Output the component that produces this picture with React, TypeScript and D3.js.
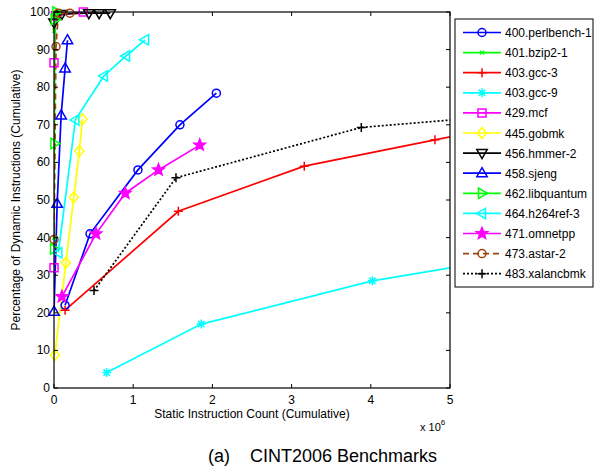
import React from "react";
import * as d3 from "d3";

const W = 596;
const H = 468;

// Axis ticks
const X_TICKS = [0, 1, 2, 3, 4, 5];
const Y_TICKS = [0, 10, 20, 30, 40, 50, 60, 70, 80, 90, 100];

// Benchmark names (legend order)
const NAMES = [
  "400.perlbench-1",
  "401.bzip2-1",
  "403.gcc-3",
  "403.gcc-9",
  "429.mcf",
  "445.gobmk",
  "456.hmmer-2",
  "458.sjeng",
  "462.libquantum",
  "464.h264ref-3",
  "471.omnetpp",
  "473.astar-2",
  "483.xalancbmk",
];

// [static instruction count (x 1e6), % dynamic instructions]
const perlbench: [number, number][] = [[0.14, 22], [0.455, 41], [1.06, 58], [1.59, 70], [2.05, 78.4]];
const bzip2: [number, number][] = [[0, 40], [0.005, 95], [0.015, 99], [0.03, 100]];
const gcc3: [number, number][] = [[0.14, 20.7], [1.57, 47], [3.16, 59], [4.81, 66], [6.0, 71]];
const gcc9: [number, number][] = [[0.665, 4.1], [1.86, 17], [4.02, 28.5], [6.0, 35.5]];
const mcf: [number, number][] = [[0, 32], [0, 86.5], [0.02, 99], [0.37, 100]];
const gobmk: [number, number][] = [[0.01, 8.8], [0.15, 33.3], [0.25, 50.7], [0.32, 63], [0.36, 71.5]];
const hmmer: [number, number][] = [[0, 97.2], [0.1, 99.5], [0.44, 99.7], [0.57, 99.7], [0.71, 99.7]];
const sjeng: [number, number][] = [[0, 20.3], [0.04, 49], [0.09, 72.5], [0.14, 85], [0.17, 92.5]];
const libquantum: [number, number][] = [[0, 37], [0.005, 65], [0.01, 98], [0.03, 100]];
const h264ref: [number, number][] = [[0.055, 36], [0.27, 71.3], [0.63, 83], [0.91, 88.3], [1.15, 92.6]];
const omnetpp: [number, number][] = [[0.1, 24.3], [0.53, 41], [0.9, 51.8], [1.32, 58], [1.84, 64.6]];
const astar: [number, number][] = [[0, 39.5], [0.025, 90.8], [0.055, 99.7], [0.2, 99.7]];
const xalancbmk: [number, number][] = [[0.505, 25.9], [1.54, 55.9], [3.88, 69.3], [6.0, 73]];

const SERIES_DATA = [perlbench, bzip2, gcc3, gcc9, mcf, gobmk, hmmer, sjeng, libquantum, h264ref, omnetpp, astar, xalancbmk];

type Marker = "circle" | "x" | "plus" | "asterisk" | "square" | "diamond" | "tdown" | "tup" | "tright" | "tleft" | "star";

const STYLES: { color: string; dash?: string; marker: Marker }[] = [
  { color: "#0000ff", marker: "circle" },
  { color: "#00ff00", marker: "x" },
  { color: "#ff0000", marker: "plus" },
  { color: "#00ffff", marker: "asterisk" },
  { color: "#ff00ff", marker: "square" },
  { color: "#ffff00", marker: "diamond" },
  { color: "#000000", marker: "tdown" },
  { color: "#0000ff", marker: "tup" },
  { color: "#00ff00", marker: "tright" },
  { color: "#00ffff", marker: "tleft" },
  { color: "#ff00ff", marker: "star" },
  { color: "#a0420c", dash: "6,4", marker: "circle" },
  { color: "#000000", dash: "2,2", marker: "plus" },
];

const FONT = "'Liberation Sans', Arial, Helvetica, sans-serif";

function markerPath(m: Marker, cx: number, cy: number): string {
  const r = 4.5;
  switch (m) {
    case "circle":
      return `M${cx + 4},${cy} A4,4 0 1,1 ${cx - 4},${cy} A4,4 0 1,1 ${cx + 4},${cy} Z`;
    case "x":
      return `M${cx - 2},${cy - 2}L${cx + 2},${cy + 2}M${cx - 2},${cy + 2}L${cx + 2},${cy - 2}`;
    case "plus":
      return `M${cx - r},${cy}L${cx + r},${cy}M${cx},${cy - r}L${cx},${cy + r}`;
    case "asterisk": {
      const d = 3.2;
      return `M${cx - r},${cy}L${cx + r},${cy}M${cx},${cy - r}L${cx},${cy + r}M${cx - d},${cy - d}L${cx + d},${cy + d}M${cx - d},${cy + d}L${cx + d},${cy - d}`;
    }
    case "square":
      return `M${cx - 4},${cy - 4}H${cx + 4}V${cy + 4}H${cx - 4}Z`;
    case "diamond":
      return `M${cx},${cy - 5.5}L${cx + 4.5},${cy}L${cx},${cy + 5.5}L${cx - 4.5},${cy}Z`;
    case "tup":
      return `M${cx},${cy - 5.5}L${cx + 5.2},${cy + 3.5}L${cx - 5.2},${cy + 3.5}Z`;
    case "tdown":
      return `M${cx},${cy + 5.5}L${cx + 5.2},${cy - 3.5}L${cx - 5.2},${cy - 3.5}Z`;
    case "tright":
      return `M${cx + 5.5},${cy}L${cx - 3.5},${cy + 5.2}L${cx - 3.5},${cy - 5.2}Z`;
    case "tleft":
      return `M${cx - 5.5},${cy}L${cx + 3.5},${cy + 5.2}L${cx + 3.5},${cy - 5.2}Z`;
    case "star": {
      const pts: string[] = [];
      for (let i = 0; i < 10; i++) {
        const rr = i % 2 === 0 ? 6 : 2.6;
        const a = -Math.PI / 2 + (i * Math.PI) / 5;
        pts.push(`${cx + rr * Math.cos(a)},${cy + rr * Math.sin(a)}`);
      }
      return `M${pts.join("L")}Z`;
    }
  }
}

function MarkerShape({ m, cx, cy, color }: { m: Marker; cx: number; cy: number; color: string }) {
  return (
    <path
      d={markerPath(m, cx, cy)}
      fill={m === "star" ? color : "none"}
      stroke={color}
      strokeWidth={m === "x" ? 1.3 : 1.5}
    />
  );
}

export default function App() {
  const x = d3.scaleLinear().domain([0, 5]).range([54, 450]);
  const y = d3.scaleLinear().domain([0, 100]).range([388, 12]);
  const [x0, x1] = x.range();
  const [yb, yt] = y.range();

  const line = d3
    .line<[number, number]>()
    .x((d) => x(d[0]))
    .y((d) => y(d[1]));

  const legendX = 455;
  const legendY = 19;
  const legendW = 138;
  const legendRowH = 20.1;
  const legendH = 268;

  return (
    <svg
      width={W}
      height={H}
      style={{ position: "absolute", left: 0, top: 0, background: "#fff" }}
      fontFamily={FONT}
    >
      <defs>
        <clipPath id="plotClip">
          <rect x={x0} y={yt} width={x1 - x0} height={yb - yt} />
        </clipPath>
      </defs>
      <rect width={W} height={H} fill="#fff" />

      {/* series lines */}
      <g clipPath="url(#plotClip)">
        {SERIES_DATA.map((data, i) => (
          <path
            key={i}
            d={line(data) || ""}
            fill="none"
            stroke={STYLES[i].color}
            strokeWidth={1.7}
            strokeDasharray={STYLES[i].dash}
          />
        ))}
      </g>
      {/* series markers */}
      {SERIES_DATA.map((data, i) => (
        <g key={i}>
          {data
            .filter((d) => d[0] >= 0 && d[0] <= 5 && d[1] >= 0 && d[1] <= 100)
            .map((d, j) => (
              <MarkerShape key={j} m={STYLES[i].marker} cx={x(d[0])} cy={y(d[1])} color={STYLES[i].color} />
            ))}
        </g>
      ))}

      {/* axes box */}
      <rect x={x0} y={yt} width={x1 - x0} height={yb - yt} fill="none" stroke="#000" strokeWidth={1.2} />
      {X_TICKS.map((t) => (
        <g key={"xt" + t}>
          <line x1={x(t)} x2={x(t)} y1={yb} y2={yb - 4} stroke="#000" />
          <line x1={x(t)} x2={x(t)} y1={yt} y2={yt + 4} stroke="#000" />
          <text x={x(t)} y={yb + 16} fontSize={12} textAnchor="middle" fill="#000">
            {t}
          </text>
        </g>
      ))}
      {Y_TICKS.map((t) => (
        <g key={"yt" + t}>
          <line x1={x0} x2={x0 + 4} y1={y(t)} y2={y(t)} stroke="#000" />
          <line x1={x1} x2={x1 - 4} y1={y(t)} y2={y(t)} stroke="#000" />
          <text x={x0 - 4} y={y(t) + 4} fontSize={12} textAnchor="end" fill="#000">
            {t}
          </text>
        </g>
      ))}

      {/* axis labels */}
      <text x={(x0 + x1) / 2} y={418} fontSize={12} textAnchor="middle" fill="#000">
        Static Instruction Count (Cumulative)
      </text>
      <text x={420} y={431} fontSize={11} fill="#000">
        x 10
        <tspan dy={-6} fontSize={8}>
          6
        </tspan>
      </text>
      <text
        transform={`translate(20,${(yb + yt) / 2}) rotate(-90)`}
        fontSize={12}
        textAnchor="middle"
        fill="#000"
      >
        Percentage of Dynamic Instructions (Cumulative)
      </text>

      {/* caption */}
      <text x={208} y={462} fontSize={18} fill="#000" style={{ whiteSpace: "pre" }}>
        {"(a)    CINT2006 Benchmarks"}
      </text>

      {/* legend */}
      <rect x={legendX} y={legendY} width={legendW} height={legendH} fill="#fff" stroke="#000" strokeWidth={1} />
      {NAMES.map((name, i) => {
        const ly = legendY + 13.5 + i * legendRowH;
        const st = STYLES[i];
        return (
          <g key={name}>
            <line
              x1={463}
              x2={501}
              y1={ly}
              y2={ly}
              stroke={st.color}
              strokeWidth={1.7}
              strokeDasharray={st.dash}
            />
            <MarkerShape m={st.marker} cx={482} cy={ly} color={st.color} />
            <text x={505} y={ly + 4.5} fontSize={12} fill="#000">
              {name}
            </text>
          </g>
        );
      })}
    </svg>
  );
}
